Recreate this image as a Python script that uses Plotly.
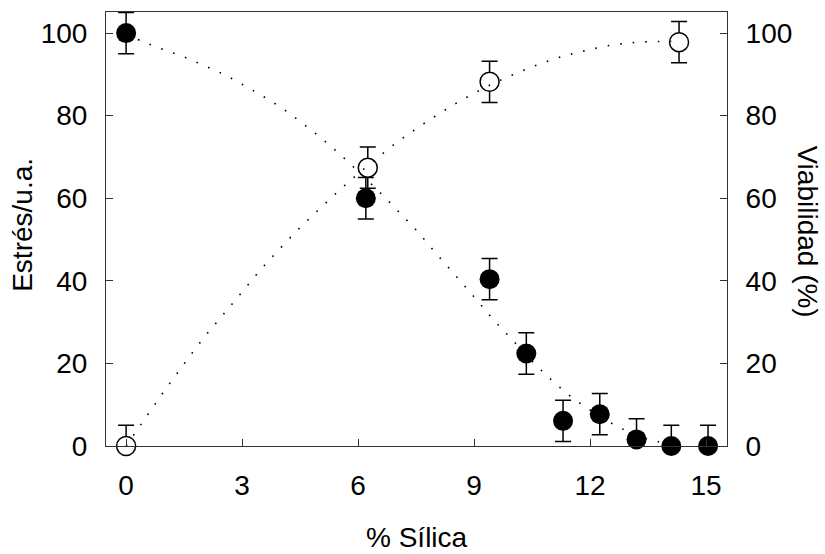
import plotly.graph_objects as go

# Estrés (círculos rellenos, eje izquierdo)
silica_estres = [0, 6.2, 9.4, 10.35, 11.3, 12.25, 13.2, 14.1, 15.05]
estres = [100, 60, 40.4, 22.4, 6.1, 7.7, 1.6, 0, 0]
estres_err_sup = [5, 5, 5, 5, 5, 5, 5, 5, 5]
estres_err_inf = [5, 5, 5, 5, 5, 5, 1.6, 0, 0]

# Viabilidad (círculos abiertos, eje derecho)
silica_viab = [0, 6.25, 9.4, 14.3]
viabilidad = [0, 67.4, 88.2, 97.8]
viab_err_sup = [5, 5, 5, 5]
viab_err_inf = [0, 5, 5, 5]

# Curvas de ajuste (punteadas)
ajuste_x_estres = [0, 0.5, 1, 1.5, 2, 2.5, 3, 3.5, 4, 4.5, 5, 5.5, 6, 6.5, 7,
                   7.5, 8, 8.5, 9, 9.5, 10, 10.5, 11, 11.5, 12, 12.5, 13, 13.5, 14.1]
ajuste_y_estres = [99.6, 97.7, 95.9, 94.2, 92.2, 90.1, 87.6, 84.9, 82.0, 78.6, 74.9,
                   70.9, 66.5, 62.0, 57.2, 52.3, 46.8, 41.5, 36.1, 30.6, 25.6, 20.5,
                   16.0, 12.0, 8.7, 5.8, 3.4, 1.7, 0.3]
ajuste_x_viab = [0, 0.5, 1, 1.5, 2, 2.5, 3, 3.5, 4, 4.5, 5, 5.5, 6, 6.5, 7,
                 7.5, 8, 8.5, 9, 9.5, 10, 10.5, 11, 11.5, 12, 12.5, 13, 13.5, 14.1]
ajuste_y_viab = [0, 6.8, 13.5, 19.9, 26.1, 31.7, 37.3, 42.9, 48.0, 52.9, 57.4,
                 61.8, 65.9, 69.8, 73.5, 76.8, 79.9, 82.8, 85.4, 87.8, 89.9, 91.8,
                 93.5, 94.9, 96.0, 97.0, 97.6, 97.9, 98.0]

x_ticks = [0, 3, 6, 9, 12, 15]
y_ticks = [0, 20, 40, 60, 80, 100]

FUENTE = "Liberation Sans, Arial, sans-serif"
punteado = dict(color="black", width=1.6, dash="1.6px,11px")

fig = go.Figure()

fig.add_trace(go.Scatter(
    x=ajuste_x_estres, y=ajuste_y_estres, mode="lines", line=punteado,
    line_shape="spline", hoverinfo="skip", yaxis="y"))
fig.add_trace(go.Scatter(
    x=silica_estres, y=estres, mode="markers", cliponaxis=False,
    marker=dict(symbol="circle", size=20, color="black"),
    error_y=dict(type="data", array=estres_err_sup, arrayminus=estres_err_inf,
                 color="black", thickness=1.5, width=8),
    yaxis="y"))

fig.add_trace(go.Scatter(
    x=silica_viab, y=viabilidad, mode="markers", cliponaxis=False,
    marker=dict(symbol="circle", size=19, color="white",
                line=dict(color="black", width=1.5)),
    error_y=dict(type="data", array=viab_err_sup, arrayminus=viab_err_inf,
                 color="black", thickness=1.5, width=8),
    yaxis="y2"))
fig.add_trace(go.Scatter(
    x=ajuste_x_viab, y=ajuste_y_viab, mode="lines", line=punteado,
    line_shape="spline", hoverinfo="skip", yaxis="y2", cliponaxis=False))

eje = dict(showgrid=False, zeroline=False, ticks="inside", ticklen=7,
           tickwidth=1, tickcolor="#333", linecolor="#333", linewidth=1,
           tickfont=dict(family=FUENTE, size=28, color="black"),
           ticklabelstandoff=12)

fig.update_layout(
    width=825, height=554,
    margin=dict(l=106, r=98, t=12, b=108),
    plot_bgcolor="white", paper_bgcolor="white",
    showlegend=False,
    font=dict(family=FUENTE, color="black"),
    xaxis=dict(eje, range=[-0.52, 15.54], tickvals=x_ticks, mirror=True,
               showline=True, ticklabelstandoff=14),
    yaxis=dict(eje, range=[0, 105.1], tickvals=y_ticks, showline=True),
    yaxis2=dict(eje, range=[0, 105.1], tickvals=y_ticks, showline=True,
                overlaying="y", side="right"),
    annotations=[
        dict(text="% Sílica", xref="paper", yref="paper", x=0.5, y=-0.21,
             showarrow=False, font=dict(size=28, family=FUENTE),
             xanchor="center", yanchor="middle"),
        dict(text="Estrés/u.a.", xref="paper", yref="paper", x=-0.135, y=0.51,
             showarrow=False, textangle=-90, font=dict(size=28, family=FUENTE),
             xanchor="center", yanchor="middle"),
        dict(text="Viabilidad (%)", xref="paper", yref="paper", x=1.13, y=0.495,
             showarrow=False, textangle=90, font=dict(size=28, family=FUENTE),
             xanchor="center", yanchor="middle"),
    ],
)

# la página tiene un margen de 8px por defecto: se quita
fig.write_html("out.html", config={"displayModeBar": False},
               post_script="document.body.style.margin='0';")
